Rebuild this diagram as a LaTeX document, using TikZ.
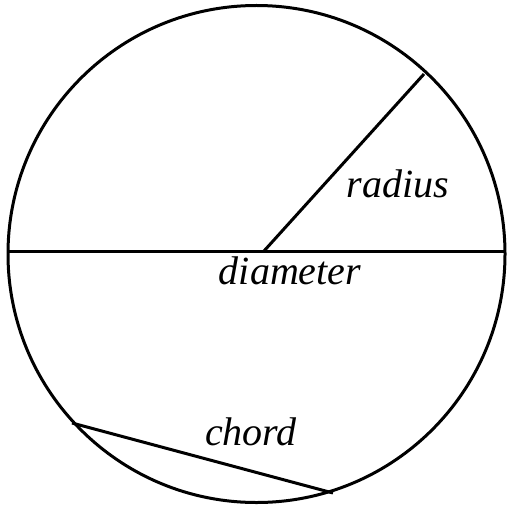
\documentclass[tikz,border=0pt]{standalone}
\usepackage{fontspec}
\setmainfont{Liberation Serif}
\begin{document}
\begin{tikzpicture}[x=1pt, y=-1pt, every node/.style={font=\fontsize{40}{40}\itshape\selectfont}]
  \useasboundingbox (0,0) rectangle (507,508);

  % circle
  \draw[line width=3pt] (256.5,254) circle (248.5);

  % end points
  \coordinate (dl) at (8,251);
  \coordinate (dr) at (505,251);
  \coordinate (foot) at (264,251);
  \coordinate (top) at (424,74);
  \coordinate (cl) at (72,423);
  \coordinate (cr) at (333,493);

  % diameter, radius, chord
  \draw[line width=3pt] (dl) -- (dr);
  \draw[line width=3pt] (foot) -- (top);
  \draw[line width=3pt] (cl) -- (cr);

  \node (radius) at (398,184) {radius};
  \node (diameter) at (290,271) {diameter};
  \node (chord) at (251,432) {chord};
\end{tikzpicture}
\end{document}
